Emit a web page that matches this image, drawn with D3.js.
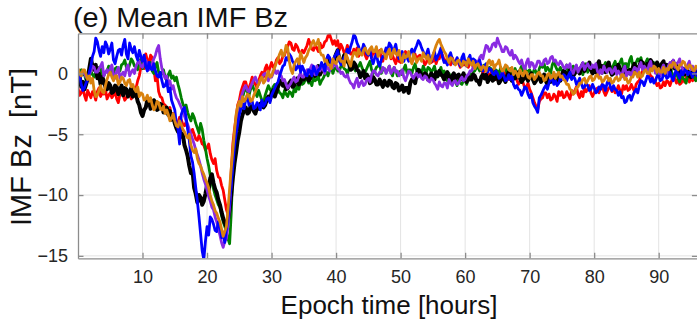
<!DOCTYPE html>
<html>
<head>
<meta charset="utf-8">
<script src="https://cdn.jsdelivr.net/npm/d3@7"></script>
<style>
  html, body { margin: 0; padding: 0; background: #fff; }
  svg { display: block; font-family: "Liberation Sans", Arial, sans-serif; }
</style>
</head>
<body>
<svg id="chart" width="697" height="324"></svg>
<script>
// Epoch sampling: one value every quarter hour from 0 to 96 h
const hourStep = 0.25;
const xTicks = [10, 20, 30, 40, 50, 60, 70, 80, 90];
const yTicks = [0, -5, -10, -15];

// Mean IMF Bz per event group [nT], rows of four hours
const bzBlack = [
  -0.6,-0.2,-1.1,-0.7, -1.3,-0.9,-0.4,0.4, 1.2,0.6,0.3,0.7, -0.4,0.0,-0.9,-0.3,
  -0.6,-1.1,-1.3,-0.8, -1.0,-1.6,-1.5,-1.0, -1.1,-1.7,-1.4,-1.0, -1.8,-1.2,-1.3,-1.9,
  -1.6,-1.2,-1.9,-1.5, -1.7,-2.3,-2.6,-3.2, -3.5,-3.0,-2.8,-2.2, -2.3,-2.9,-2.7,-2.2,
  -2.4,-3.0,-2.9,-2.5, -2.6,-3.2,-3.1,-2.8, -3.4,-3.1,-3.8,-3.5, -4.1,-4.5,-4.8,-4.4,
  -5.2,-5.0,-5.9,-6.3, -6.8,-7.6,-8.2,-8.0, -9.4,-9.9,-10.6,-10.0, -10.2,-10.8,-10.5,-9.9,
  -9.2,-9.6,-8.6,-8.3, -9.0,-9.5,-9.8,-10.4, -10.8,-11.4,-11.9,-12.3, -12.6,-12.0,-11.2,-10.0,
  -8.6,-7.4,-6.5,-5.5, -4.8,-3.9,-3.4,-3.0, -2.8,-3.3,-3.2,-2.7, -2.7,-3.1,-3.3,-2.8,
  -2.9,-2.5,-2.4,-2.8, -2.6,-2.2,-1.9,-2.2, -1.6,-1.4,-1.9,-1.5, -1.1,-0.7,-0.6,-1.0,
  -0.9,-1.3,-1.2,-0.8, -0.6,-1.1,-1.0,-0.6, -0.4,-0.9,-0.7,-0.3, -0.5,-0.1,-0.2,-0.6,
  -0.4,0.0,0.1,-0.2, 0.3,0.6,-0.1,0.2, 0.6,0.3,0.9,1.3, 1.1,0.6,0.7,1.2,
  1.6,1.9,1.2,0.9, 1.0,1.5,1.4,1.0, 0.8,0.3,0.4,0.9, 0.7,0.3,0.2,-0.3,
  -0.1,0.2,-0.4,-0.1, -0.3,-0.8,-0.7,-0.3, -0.5,-0.9,-0.9,-0.5, -0.8,-1.1,-0.6,-0.9,
  -1.0,-0.6,-0.7,-1.1, -1.2,-0.8,-0.9,-1.4, -1.3,-1.0,-1.5,-1.2, -1.2,-1.6,-0.8,-0.5,
  -0.4,-0.8,-0.1,0.3, 0.1,-0.2,-0.3,0.0, -0.1,-0.5,-0.4,0.0, -0.2,-0.5,0.1,-0.2,
  0.2,-0.1,-0.2,-0.5, -0.1,0.1,-0.4,-0.7, -0.2,0.0,-0.5,-0.2, -0.1,-0.5,-0.3,0.0,
  -0.4,-0.7,-0.2,-0.5, -0.5,-0.1,-0.2,-0.6, -0.6,-0.9,-0.3,-0.1, -0.4,-0.1,-0.7,-0.4,
  -0.2,-0.6,-0.5,-0.1, -0.3,-0.8,-0.6,-0.2, -0.4,-0.7,-0.2,0.1, -0.3,-0.6,0.0,-0.4,
  -0.2,0.1,-0.4,-0.7, -0.5,-0.1,-0.3,-0.6, -0.2,0.0,-0.5,-0.8, -0.6,-0.2,-0.3,-0.7,
  -0.4,-0.1,-0.6,-0.9, -0.3,-0.7,-0.5,-0.1, -0.6,-0.8,-0.3,-0.6, -0.1,0.2,0.1,-0.3,
  -0.1,0.3,0.2,-0.2, 0.0,0.4,0.3,0.0, 0.5,0.8,0.2,0.6, 0.6,0.9,0.3,0.0,
  0.4,0.1,0.7,1.0, 0.2,0.6,0.5,0.1, 0.6,0.9,0.2,-0.1, 0.0,0.5,0.3,0.7,
  0.4,0.0,0.1,0.5, -0.1,0.2,0.3,-0.1, 0.5,0.8,0.2,0.5, 0.6,1.0,0.9,0.5,
  0.4,0.8,0.7,1.1, 0.9,0.4,0.5,0.9, 0.6,0.3,0.8,1.0, 0.3,0.7,0.6,0.2,
  0.8,1.0,0.4,0.7, 0.2,-0.1,0.0,0.4, -0.1,0.3,0.2,-0.2, -0.3,0.1,0.0,0.3,
  0.1
];

const bzRed = [
  -1.2,-1.8,-1.6,-1.1, -1.8,-2.2,-1.4,-1.7, -2.0,-1.5,-1.7,-2.2, -1.5,-1.2,-1.9,-1.6,
  -1.7,-1.3,-2.1,-1.8, -1.6,-2.0,-1.8,-1.4, -2.1,-2.4,-1.7,-1.3, -1.8,-2.2,-2.0,-1.6,
  -1.6,-2.1,-1.9,-1.5, -1.2,-0.6,-0.2,0.5, 0.9,0.4,1.6,1.1, 0.8,1.5,1.3,0.4,
  -0.6,-0.2,-1.5,-1.9, -2.0,-2.5,-2.6,-3.0, -3.1,-2.8,-3.6,-3.3, -3.7,-4.1,-4.0,-3.6,
  -3.8,-4.2,-4.3,-4.0, -4.5,-4.8,-4.9,-4.6, -5.0,-5.4,-5.5,-5.1, -5.4,-5.8,-5.9,-6.3,
  -6.1,-5.8,-6.6,-7.1, -7.4,-7.0,-8.0,-8.5, -8.6,-9.2,-9.6,-10.4, -11.2,-11.6,-10.4,-8.0,
  -5.8,-4.6,-3.6,-2.6, -2.2,-1.5,-1.1,-0.7, -0.7,-1.3,-1.2,-0.8, -0.3,-0.7,-0.9,-1.2,
  -0.6,-0.2,0.1,-0.3, 0.4,0.7,0.0,0.5, 0.9,0.5,0.6,1.1, 1.3,0.8,1.0,1.4,
  1.5,1.9,2.2,2.6, 2.5,2.0,1.9,2.4, 2.2,1.8,1.6,1.9, 1.7,2.0,2.3,2.8,
  2.4,2.0,1.9,2.3, 2.1,1.8,2.5,2.1, 2.2,2.6,2.7,3.1, 3.2,2.8,2.4,2.7,
  2.3,2.7,1.9,2.4, 2.1,1.7,1.8,2.3, 2.0,1.6,1.6,2.0, 1.7,2.1,1.4,1.8,
  1.9,2.2,1.5,1.2, 1.6,2.0,1.3,1.7, 1.8,1.4,1.5,1.9, 1.3,1.0,1.7,2.0,
  1.6,1.9,1.2,1.5, 1.1,0.8,1.4,1.0, 0.9,1.4,1.3,1.8, 1.6,1.2,1.2,0.9,
  1.3,1.6,1.0,1.4, 1.5,1.1,1.1,0.7, 0.9,1.4,1.2,0.9, 1.0,1.3,0.8,1.2,
  1.2,1.7,1.5,1.1, 0.9,1.3,1.1,0.7, 1.3,1.0,0.9,1.2, 0.8,0.5,1.0,0.7,
  0.7,1.0,0.5,0.9, 0.9,0.5,0.6,1.0, 0.7,0.3,0.4,0.0, 0.3,0.6,0.1,-0.2,
  0.0,0.3,-0.2,-0.5, -0.1,-0.5,-0.4,0.0, -0.3,0.1,-0.1,-0.5, -0.2,-0.6,-0.5,-0.2,
  -0.5,-0.9,-0.7,-0.4, -0.8,-1.2,-1.1,-0.8, -1.3,-1.6,-2.0,-2.4, -2.7,-3.0,-2.3,-2.1,
  -2.0,-1.6,-1.6,-2.0, -1.7,-2.2,-2.1,-1.7, -1.9,-2.3,-1.5,-1.8, -1.5,-2.0,-1.9,-1.5,
  -1.8,-2.1,-1.4,-1.7, -1.4,-1.1,-1.7,-2.0, -1.5,-1.9,-1.2,-1.5, -1.3,-1.0,-1.6,-1.9,
  -1.6,-1.3,-1.2,-1.6, -1.2,-0.9,-1.5,-1.8, -1.5,-1.2,-1.1,-1.5, -1.2,-1.6,-1.4,-1.0,
  -1.4,-1.7,-1.0,-1.3, -1.0,-1.4,-1.3,-0.9, -1.2,-1.5,-0.9,-0.7, -0.6,-0.1,0.2,0.7,
  0.9,0.4,0.1,-0.2, -0.3,-0.6,-0.7,-1.0, -0.8,-1.2,-1.1,-0.7, -1.0,-0.6,-0.7,-1.0,
  -0.6,-0.2,-0.4,-0.8, -0.5,-0.9,-0.8,-0.4, -0.7,-0.3,-0.4,-0.7, -0.3,-0.6,-0.5,-0.1,
  -0.2
];

const bzBlue = [
  -0.4,-0.1,-0.9,-1.4, -1.2,-0.8,-0.5,0.1, 0.6,1.4,1.8,2.9, 2.6,1.9,1.4,2.2,
  1.7,2.6,2.3,1.6, 2.0,2.5,1.1,0.8, 1.4,1.9,2.0,1.5, 2.3,2.8,1.6,1.2,
  2.5,2.0,1.7,2.2, 1.5,1.1,1.9,1.4, 1.0,1.5,0.6,0.2, 0.9,0.4,0.3,0.8,
  0.2,-0.2,-0.3,0.1, -0.6,-1.1,-1.0,-0.6, -1.5,-1.2,-2.2,-2.6, -3.0,-4.2,-4.6,-5.8,
  -3.4,-3.0,-2.8,-3.6, -4.6,-5.5,-6.8,-7.3, -8.2,-9.4,-10.5,-11.8, -13.2,-14.6,-15.3,-13.8,
  -12.6,-13.3,-11.8,-12.0, -12.4,-12.9,-13.0,-12.2, -12.5,-13.5,-13.2,-13.9, -12.8,-11.9,-10.5,-9.2,
  -7.6,-6.0,-5.0,-4.2, -3.4,-2.9,-2.5,-2.9, -2.1,-1.8,-2.6,-2.2, -2.3,-2.9,-2.8,-2.4,
  -2.6,-3.0,-2.2,-2.7, -2.5,-2.1,-2.0,-2.4, -1.8,-1.5,-1.2,-0.9, -0.7,-0.2,0.2,0.6,
  0.7,1.3,1.1,1.6, 1.4,1.0,0.8,0.3, 0.5,0.9,0.1,0.6, 0.3,-0.1,-0.2,0.3,
  0.2,-0.2,0.6,0.2, -0.1,0.3,0.4,0.9, 0.6,0.2,1.1,1.5, 1.3,0.8,0.9,1.4,
  1.6,1.9,1.1,0.7, 1.0,1.3,1.5,2.0, 1.7,2.2,2.6,3.2, 3.0,2.5,2.2,1.7,
  1.8,2.4,2.1,1.6, 1.5,1.9,1.2,0.8, 1.3,1.6,0.9,0.6, 1.1,1.4,1.5,2.1,
  1.9,2.5,2.3,1.8, 2.0,2.4,1.6,1.2, 1.4,1.8,1.0,1.5, 1.3,1.0,1.7,2.0,
  1.6,2.0,2.3,2.7, 2.5,2.1,1.8,1.4, 1.6,2.0,1.3,1.0, 1.5,1.8,1.1,1.4,
  1.7,2.1,1.3,0.9, 1.0,0.7,1.4,1.7, 1.2,0.8,0.9,1.3, 1.0,0.6,1.3,1.6,
  0.9,0.6,1.2,1.5, 0.8,1.2,1.1,0.7, 0.8,1.1,0.5,0.2, 0.5,0.8,0.1,0.4,
  0.3,0.0,-0.1,0.2, 0.0,-0.4,-0.3,0.1, -0.2,-0.6,-0.5,-0.1, -0.5,-0.2,-0.9,-1.2,
  -1.0,-1.3,-1.4,-1.8, -1.5,-1.1,-1.2,-1.7, -2.0,-1.7,-2.4,-2.7, -2.9,-3.2,-2.0,-1.8,
  -1.5,-1.2,-1.0,-1.3, -0.8,-0.4,-0.5,-0.9, -0.6,-1.0,-0.8,-0.4, -0.5,-0.1,-0.2,-0.6,
  -0.2,0.1,-0.5,-0.3, -0.4,-0.9,-0.7,-0.4, -0.8,-1.2,-1.1,-0.8, -1.0,-1.4,-1.3,-0.9,
  -1.2,-1.6,-1.5,-1.1, -1.3,-0.9,-1.0,-1.4, -0.8,-0.5,-1.1,-1.4, -1.0,-1.3,-1.4,-1.8,
  -1.5,-2.0,-1.9,-2.4, -2.3,-1.9,-1.8,-2.2, -1.8,-1.5,-1.3,-1.6, -1.0,-0.6,-0.7,-1.0,
  -0.6,-0.2,-0.3,-0.7, -0.4,-0.8,-0.6,-0.2, -0.2,-0.6,-0.5,-0.1, 0.0,-0.4,-0.3,0.1,
  -0.3,-0.6,0.0,0.3, -0.1,-0.4,0.2,-0.1, 0.2,0.5,-0.1,0.1, 0.0,-0.3,0.3,0.0,
  -0.2
];

const bzGreen = [
  -0.2,0.2,0.3,-0.1, -0.1,-0.6,-0.5,-0.1, 0.2,-0.1,-0.3,0.1, 0.1,0.5,0.4,-0.1,
  -0.2,0.1,0.2,0.6, 0.3,-0.1,0.0,0.4, 0.5,0.1,0.2,0.7, 0.8,1.1,0.5,0.3,
  0.7,1.2,1.0,0.6, 0.6,0.3,0.9,1.2, 0.4,0.7,0.8,0.3, 0.5,0.9,0.2,0.0,
  0.6,0.9,0.1,-0.2, 0.0,0.3,-0.3,-0.6, -0.1,0.2,-0.4,-0.2, -0.6,-0.3,-0.9,-1.4,
  -2.0,-2.5,-2.8,-2.6, -3.2,-3.6,-3.9,-3.3, -3.6,-4.1,-4.5,-4.9, -4.1,-4.6,-5.5,-6.2,
  -7.0,-7.6,-8.4,-9.0, -9.5,-10.0,-10.4,-10.8, -11.0,-11.7,-12.2,-12.6, -13.0,-13.6,-14.0,-11.5,
  -8.0,-6.2,-4.6,-3.6, -3.0,-2.4,-2.0,-1.5, -1.2,-1.5,-1.8,-1.3, -0.9,-1.3,-1.6,-1.9,
  -1.4,-1.8,-2.2,-2.5, -1.8,-1.4,-1.0,-1.3, -1.5,-1.1,-0.9,-1.4, -1.3,-1.6,-1.7,-2.0,
  -1.4,-1.7,-1.9,-1.5, -1.6,-1.9,-1.2,-1.5, -1.0,-1.3,-0.6,-0.9, -0.8,-0.5,-0.4,-0.8,
  -0.7,-1.0,-0.3,-0.6, -0.5,-0.2,-0.9,-0.6, -0.4,-0.1,0.1,-0.2, 0.3,0.6,0.0,0.4,
  0.5,0.2,0.2,0.6, 0.7,0.4,0.3,0.0, 0.4,0.7,0.8,0.5, 0.2,0.5,0.6,0.9,
  0.5,0.2,0.1,0.4, 0.7,1.0,0.3,0.0, 0.2,0.5,0.6,0.9, 0.0,0.3,0.4,0.1,
  0.3,0.6,0.1,-0.2, 0.5,0.2,-0.2,0.1, 0.2,-0.1,0.4,0.7, 0.0,0.3,0.3,0.0,
  0.5,0.8,0.2,-0.1, 0.3,0.0,0.6,0.3, 0.1,0.5,0.4,0.1, 0.3,0.6,0.0,-0.3,
  0.2,0.5,-0.1,0.2, -0.3,-0.6,0.0,-0.3, -0.4,-0.1,-0.7,-1.0, -0.5,-0.8,-0.9,-0.6,
  -0.6,-0.9,-0.3,0.0, -0.2,0.1,0.2,0.5, 0.5,0.2,0.3,0.6, 0.7,0.4,0.2,0.5,
  0.4,0.1,0.0,0.3, 0.2,-0.1,0.5,0.2, 0.3,0.6,0.0,0.3, 0.4,0.0,0.1,0.4,
  0.0,-0.3,0.3,0.6, 0.2,0.5,-0.1,0.2, 0.3,0.0,0.0,0.4, 0.1,-0.2,0.4,0.7,
  0.5,0.8,0.2,0.5, 0.3,0.0,0.7,1.0, 0.6,0.3,0.2,0.5, 0.2,-0.1,0.4,0.7,
  0.0,-0.3,0.3,0.6, 0.4,0.1,0.1,0.4, 0.2,-0.1,0.5,0.8, 0.1,0.4,0.3,0.0,
  0.4,0.7,0.0,0.3, 0.3,0.0,0.6,0.9, 0.5,0.8,0.2,0.5, 0.7,1.0,0.4,0.7,
  0.9,1.2,0.5,0.8, 0.8,0.5,1.1,1.4, 0.6,0.3,0.9,1.2, 1.0,1.3,0.7,0.4,
  0.9,1.2,0.5,0.2, 0.6,0.9,0.3,0.0, 0.4,0.7,0.1,-0.2, 0.3,0.0,0.5,0.8,
  0.1,-0.2,-0.2,0.1, -0.4,-0.7,-0.1,-0.4, -0.5,-0.8,-0.2,0.1, 0.0,0.3,-0.3,-0.6,
  -0.2
];

const bzPurple = [
  0.3,0.0,-0.2,0.2, 0.0,-0.3,-0.4,-0.1, 0.2,0.6,0.5,0.1, 0.1,0.4,0.6,0.9,
  -0.2,0.1,0.3,-0.1, 0.4,0.7,-0.1,-0.4, 0.2,0.5,-0.4,-0.1, 0.1,-0.2,0.4,0.7,
  -0.2,0.1,0.3,0.0, 0.6,0.9,1.0,0.6, 0.5,0.9,1.1,0.7, 0.3,0.6,0.8,1.2,
  1.5,2.0,2.3,1.2, 0.4,0.0,-0.4,-0.2, -0.9,-0.6,-1.3,-1.0, -1.6,-2.0,-2.2,-2.5,
  -2.8,-3.1,-3.5,-3.9, -4.2,-4.6,-5.0,-5.4, -5.8,-6.3,-6.7,-7.1, -7.6,-8.2,-8.7,-9.1,
  -9.6,-10.1,-10.5,-11.0, -11.2,-11.8,-12.2,-12.8, -13.3,-13.9,-14.3,-13.8, -13.6,-12.5,-11.0,-9.0,
  -7.0,-5.2,-3.8,-3.0, -2.4,-2.0,-1.6,-1.2, -1.0,-1.4,-1.5,-1.1, -0.8,-0.5,-0.3,-0.7,
  -0.9,-0.6,-0.4,-0.1, 0.0,-0.3,-0.6,-0.2, -0.3,0.0,0.3,0.0, 0.2,-0.1,-0.2,-0.6,
  -0.5,-0.9,-1.2,-1.0, -0.8,-0.5,-0.3,-0.7, -0.6,-0.2,0.0,-0.3, -0.3,0.1,0.3,0.0,
  0.4,0.7,0.1,-0.1, 0.6,0.3,0.2,0.5, 0.3,0.0,0.7,0.4, 0.2,0.6,0.5,0.9,
  0.7,0.4,0.3,0.0, 0.1,-0.2,-0.3,-0.1, -0.5,-0.8,-0.9,-1.2, -0.7,-0.4,-1.1,-0.8,
  -0.6,-1.0,-0.9,-0.5, -0.4,-0.7,-0.1,0.2, 0.2,-0.1,-0.2,0.1, 0.1,0.5,0.4,0.0,
  0.3,0.6,0.0,0.2, 0.5,0.1,0.2,-0.2, 0.0,0.3,-0.3,-0.6, -0.2,0.2,0.1,-0.2,
  -0.4,-0.1,0.0,-0.3, -0.1,-0.4,-0.5,-0.2, -0.3,-0.6,-0.7,-0.4, -0.5,-0.8,-1.0,-1.3,
  -0.7,-1.0,-1.1,-0.8, -0.8,-1.2,-0.5,-0.8, -1.0,-0.7,-0.6,-0.9, -0.8,-0.5,-0.3,-0.6,
  -0.5,-0.2,-0.1,0.2, 0.2,0.5,0.6,1.0, 0.9,1.3,1.5,1.2, 1.8,2.3,2.2,1.8,
  2.0,2.4,2.5,2.2, 2.9,2.5,2.2,1.8, 1.8,2.2,2.1,1.7, 1.5,1.9,1.2,1.5,
  1.3,1.0,0.8,1.1, 0.6,0.3,0.9,1.2, 0.5,0.9,0.8,0.4, 0.6,1.0,1.0,0.7,
  0.7,1.1,1.2,0.8, 0.9,1.3,1.4,1.0, 1.1,0.8,0.7,1.0, 0.8,0.5,0.4,0.7,
  0.5,0.8,0.2,0.0, 0.4,0.7,0.1,0.4, 0.6,0.9,0.3,0.6, 0.8,0.5,0.4,0.7,
  0.5,0.8,0.2,-0.1, 0.3,0.0,0.6,0.3, 0.1,0.4,0.4,0.0, 0.2,0.5,-0.1,0.2,
  0.0,-0.3,0.3,0.6, -0.2,0.1,0.1,-0.2, 0.2,0.5,0.4,0.0, 0.6,0.9,0.3,0.6,
  0.4,0.1,0.7,1.0, 0.3,0.6,0.0,0.3, 0.1,-0.2,0.4,0.7, 0.3,0.0,0.6,0.9,
  0.8,1.1,0.5,0.8, 0.9,1.2,0.6,0.3, 0.4,0.1,0.7,1.0, 0.3,0.6,0.1,0.4,
  0.4
];

const bzOrange = [
  0.4,0.0,-0.2,0.3, 0.3,-0.1,-0.5,-0.2, -0.8,-0.4,-1.4,-1.9, -1.8,-1.4,-1.0,-1.5,
  -1.6,-1.0,-0.5,-0.1, 0.1,-0.3,-0.6,-0.2, -0.2,-0.9,-0.7,-0.3, -0.4,-0.8,-1.0,-0.6,
  -0.5,-1.1,-0.9,-1.3, -1.5,-1.1,-1.9,-1.6, -1.7,-2.2,-2.1,-1.8, -2.3,-2.0,-2.6,-3.0,
  -2.8,-2.3,-2.4,-2.9, -3.0,-2.7,-3.3,-3.0, -3.4,-3.9,-3.7,-3.3, -3.9,-4.3,-4.4,-3.9,
  -4.2,-4.6,-4.8,-5.1, -5.3,-5.0,-5.9,-6.3, -6.5,-6.2,-7.0,-7.4, -7.6,-8.0,-8.3,-8.7,
  -9.0,-9.4,-10.0,-10.5, -10.8,-11.3,-11.5,-11.9, -12.2,-12.8,-13.4,-13.0, -12.6,-11.2,-9.5,-7.8,
  -6.3,-4.8,-3.4,-2.7, -2.3,-2.7,-1.9,-2.3, -2.1,-1.7,-1.8,-2.3, -2.2,-1.8,-1.5,-1.1,
  -0.9,-0.5,-0.3,-0.8, -0.6,-0.2,0.2,-0.3, -0.2,0.2,0.5,0.9, 1.2,1.6,1.9,1.4,
  1.6,2.3,2.1,1.0, 0.3,0.0,0.7,1.0, 1.2,0.8,1.7,1.3, 0.9,1.3,1.5,1.9,
  2.1,2.5,2.7,2.3, 2.4,2.8,1.8,1.5, 1.5,1.0,1.1,0.7, 0.7,0.4,1.2,0.9,
  0.8,1.2,1.4,1.0, 1.0,0.6,1.6,1.3, 0.9,0.6,1.3,1.7, 1.7,1.4,2.0,1.6,
  1.5,1.9,2.1,1.8, 1.6,2.0,2.2,1.8, 1.8,2.2,1.4,1.7, 2.0,1.7,1.6,1.2,
  1.7,2.0,1.3,1.6, 2.0,1.6,1.5,1.9, 1.2,0.9,1.6,1.3, 1.4,1.8,1.1,0.8,
  1.6,1.3,0.9,1.2, 1.3,1.0,1.7,1.4, 1.2,1.5,0.8,1.1, 1.5,1.9,2.3,2.6,
  2.8,2.4,2.1,1.8, 1.6,1.2,0.9,1.3, 1.2,0.9,0.7,1.0, 1.1,0.8,0.6,1.0,
  0.9,0.6,1.2,0.9, 0.7,1.0,0.4,0.7, 0.8,0.5,0.3,0.6, 0.5,0.2,0.9,1.1,
  0.7,1.0,0.4,0.7, 0.8,1.1,0.5,0.2, 0.3,0.7,0.6,0.3, 0.2,0.5,-0.1,0.2,
  0.0,-0.3,0.3,0.0, -0.2,0.2,0.1,-0.3, -0.4,-0.1,-0.1,-0.5, -0.3,0.0,0.1,-0.2,
  -0.2,-0.6,-0.5,-0.1, 0.0,-0.4,-0.3,0.1, -0.4,-0.1,0.1,-0.3, -0.2,-0.5,-0.6,-0.9,
  -0.9,-1.3,-1.4,-1.7, -1.6,-1.2,-1.1,-0.8, -0.8,-0.5,-0.4,-0.8, -0.6,-0.3,-0.2,-0.6,
  -0.5,-0.2,-0.1,-0.4, -0.3,-0.7,-0.6,-0.3, -0.2,-0.6,-0.4,-0.8, -0.7,-0.4,-0.3,-0.6,
  -0.5,-0.1,-0.1,-0.5, -0.4,-0.8,-0.7,-0.3, -0.3,0.1,0.0,-0.3, 0.1,-0.3,-0.2,0.2,
  0.3,0.0,0.0,0.4, 0.2,0.6,0.5,0.1, 0.4,0.1,0.1,0.5, 0.0,0.4,0.3,0.7,
  0.5,0.9,0.8,0.5, 0.3,0.7,0.7,1.0, 0.9,0.5,0.4,0.7, 0.6,0.3,0.2,0.6,
  0.5
];

// Drawing order (later series sit on top)
const series = [
  { key: "red",    values: bzRed,    color: "#ff0000", width: 2.8 },
  { key: "green",  values: bzGreen,  color: "#008000", width: 2.8 },
  { key: "black",  values: bzBlack,  color: "#000000", width: 4.0 },
  { key: "purple", values: bzPurple, color: "#8a2be2", width: 2.8 },
  { key: "blue",   values: bzBlue,   color: "#0000ff", width: 2.8 },
  { key: "orange", values: bzOrange, color: "#d9820f", width: 2.8 }
];

const svg = d3.select("#chart");
const plot = { left: 78, right: 697.4, top: 33.3, bottom: 258.3 };

const x = d3.scaleLinear().domain([0, 96]).range([plot.left, plot.right]);
const y = d3.scaleLinear().domain([-15.2, 3.3]).range([plot.bottom, plot.top]);

const axisColor = "#8c8c8c";
const textColor = "#262626";

// Grid
const grid = svg.append("g");
grid.selectAll("line.gx").data(xTicks).join("line")
  .attr("x1", d => x(d)).attr("x2", d => x(d))
  .attr("y1", plot.top).attr("y2", plot.bottom)
  .attr("stroke", "#e3e3e3").attr("stroke-width", 1);
grid.selectAll("line.gy").data(yTicks).join("line")
  .attr("x1", plot.left).attr("x2", plot.right)
  .attr("y1", d => y(d)).attr("y2", d => y(d))
  .attr("stroke", "#e3e3e3").attr("stroke-width", 1);

// Series
svg.append("defs").append("clipPath").attr("id", "plotClip")
  .append("rect")
  .attr("x", plot.left).attr("y", plot.top)
  .attr("width", plot.right - plot.left).attr("height", plot.bottom - plot.top);

const line = d3.line()
  .x((d, i) => x(i * hourStep))
  .y(d => y(d));

const lines = svg.append("g").attr("clip-path", "url(#plotClip)");
lines.selectAll("path").data(series).join("path")
  .attr("d", s => line(s.values))
  .attr("fill", "none")
  .attr("stroke", s => s.color)
  .attr("stroke-width", s => s.width)
  .attr("stroke-linejoin", "round")
  .attr("stroke-linecap", "round");

// Axes (box with inward ticks on all four sides)
const tickLen = 5.5;
const minus = d => d3.format("d")(d).replace("-", "\u2212");
const axisBottom = d3.axisBottom(x).tickValues(xTicks).tickSizeInner(-tickLen).tickSizeOuter(0).tickPadding(12).tickFormat(d3.format("d"));
const axisTop = d3.axisTop(x).tickValues(xTicks).tickSizeInner(-tickLen).tickSizeOuter(0).tickFormat("");
const axisLeft = d3.axisLeft(y).tickValues(yTicks).tickSizeInner(-tickLen).tickSizeOuter(0).tickPadding(10).tickFormat(minus);
const axisRight = d3.axisRight(y).tickValues(yTicks).tickSizeInner(-tickLen).tickSizeOuter(0).tickFormat("");

function styleAxis(g) {
  g.select(".domain").attr("stroke", axisColor).attr("stroke-width", 1.3);
  g.selectAll(".tick line").attr("stroke", axisColor).attr("stroke-width", 1.3);
  g.selectAll(".tick text").attr("fill", textColor).attr("font-size", 18)
    .attr("font-family", "'Liberation Sans', Arial, sans-serif");
}

svg.append("g").attr("transform", `translate(0,${plot.bottom})`).call(axisBottom).call(styleAxis);
svg.append("g").attr("transform", `translate(0,${plot.top})`).call(axisTop).call(styleAxis);
svg.append("g").attr("transform", `translate(${plot.left},0)`).call(axisLeft).call(styleAxis);
svg.append("g").attr("transform", `translate(${plot.right},0)`).call(axisRight).call(styleAxis);

// Titles
svg.append("text")
  .attr("x", 73).attr("y", 27)
  .attr("font-size", 27).attr("fill", "#111")
  .attr("textLength", 215).attr("lengthAdjust", "spacingAndGlyphs")
  .text("(e) Mean IMF Bz");

svg.append("text")
  .attr("transform", `translate(31,147) rotate(-90)`)
  .attr("text-anchor", "middle")
  .attr("font-size", 29).attr("fill", "#111")
  .style("white-space", "pre")
  .text("IMF Bz  [nT]");

svg.append("text")
  .attr("x", 389).attr("y", 314)
  .attr("text-anchor", "middle")
  .attr("font-size", 26).attr("fill", "#111")
  .text("Epoch time [hours]");
</script>
</body>
</html>
